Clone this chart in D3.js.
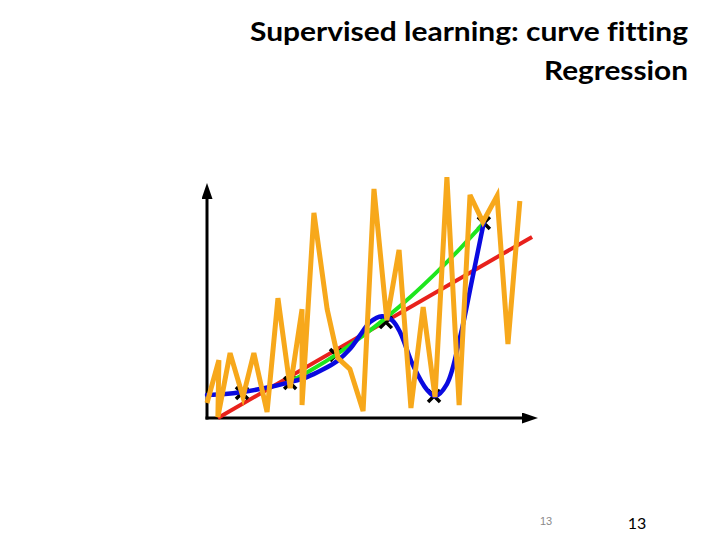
<!DOCTYPE html>
<html>
<head>
<meta charset="utf-8">
<script src="https://cdn.jsdelivr.net/npm/d3@7"></script>
<style>
  html, body { margin: 0; padding: 0; background: #fff; }
  svg { display: block; }
  text { font-variant-ligatures: none; font-feature-settings: "liga" 0; }
</style>
</head>
<body>
<svg id="chart" width="720" height="540"></svg>
<script>
// ---- Data (arbitrary units) ----
const titleLines = ["Supervised learning: curve fitting", "Regression"];
const pageLabels = ["13", "13"];

// training samples (black crosses)
const sampleX = [1.06, 2.52, 3.91, 5.42, 6.88, 8.39];
const sampleY = [0.75, 1.05, 1.89, 2.88, 0.66, 5.86];

// linear fit (red)
const linearX = [0.33, 9.85];
const linearY = [0.00, 5.44];

// quadratic fit (green)
const quadX = [2.45, 3.21, 3.94, 4.70, 5.45, 6.18, 6.91, 7.67, 8.39];
const quadY = [1.05, 1.47, 1.92, 2.45, 3.03, 3.65, 4.33, 5.09, 5.86];

// high-order polynomial fit (blue)
const polyX = [0, 0.55, 1.06, 1.76, 2.52, 3.03, 3.48, 3.94, 4.33, 4.64, 4.94, 5.30, 5.61, 5.85, 6.24, 6.67, 6.91, 7.27, 7.67, 8.03, 8.39];
const polyY = [0.69, 0.72, 0.78, 0.90, 1.08, 1.23, 1.44, 1.71, 2.07, 2.49, 2.88, 3.06, 2.94, 2.58, 1.59, 0.84, 0.66, 1.02, 2.43, 4.14, 5.89];

// over-fitted zig-zag (orange)
const overX = [0, 0.36, 0.33, 0.70, 1.09, 1.42, 1.82, 2.15, 2.52, 2.88, 2.88, 3.24, 3.64, 3.97, 4.33, 4.73, 5.06, 5.45, 5.82, 6.18, 6.55, 6.91, 7.27, 7.64, 7.97, 8.36, 8.79, 9.12, 9.48];
const overY = [0.45, 1.74, 0.03, 1.95, 0.63, 1.95, 0.18, 3.60, 0.90, 3.27, 0.39, 6.16, 3.27, 1.80, 1.47, 0.21, 6.88, 2.94, 5.05, 0.30, 3.33, 0.63, 7.24, 0.39, 6.70, 5.89, 6.67, 2.22, 6.52];

// ---- Drawing ----
const svg = d3.select("#chart");
const x = d3.scaleLinear().domain([0, 10]).range([207, 537]);
const y = d3.scaleLinear().domain([0, 7]).range([418, 185]);

// title
svg.append("text")
  .attr("x", 688).attr("y", 41)
  .attr("text-anchor", "end")
  .attr("font-family", "Lato, 'Open Sans', sans-serif")
  .attr("font-weight", "bold")
  .attr("font-size", 27)
  .attr("fill", "#000")
  .attr("textLength", 438)
  .attr("lengthAdjust", "spacingAndGlyphs")
  .text(titleLines[0]);
svg.append("text")
  .attr("x", 688).attr("y", 80)
  .attr("text-anchor", "end")
  .attr("font-family", "Lato, 'Open Sans', sans-serif")
  .attr("font-weight", "bold")
  .attr("font-size", 27)
  .attr("fill", "#000")
  .attr("textLength", 144)
  .attr("lengthAdjust", "spacingAndGlyphs")
  .text(titleLines[1]);

// arrow marker
const defs = svg.append("defs");
defs.append("marker")
  .attr("id", "arrow")
  .attr("viewBox", "0 0 10 10")
  .attr("refX", 0).attr("refY", 5)
  .attr("markerUnits", "userSpaceOnUse")
  .attr("markerWidth", 16).attr("markerHeight", 11)
  .attr("orient", "auto")
  .attr("preserveAspectRatio", "none")
  .append("path")
  .attr("d", "M0,0 L10,5 L0,10 Z")
  .attr("fill", "#000");

// axes (no ticks, just arrows)
const xAxis = svg.append("g")
  .attr("transform", `translate(0,${y(0)})`)
  .call(d3.axisBottom(x).tickValues([]).tickSizeOuter(0));
xAxis.select(".domain")
  .attr("d", `M${x(0) - 1.5},0H${x(10) - 15}`)
  .attr("stroke", "#000").attr("stroke-width", 3)
  .attr("marker-end", "url(#arrow)");

const yAxis = svg.append("g")
  .attr("transform", `translate(${x(0)},0)`)
  .call(d3.axisLeft(y).tickValues([]).tickSizeOuter(0));
yAxis.select(".domain")
  .attr("d", `M0,${y(0) + 1.5}V${y(7) + 14}`)
  .attr("stroke", "#000").attr("stroke-width", 3)
  .attr("marker-end", "url(#arrow)");

const line = d3.line().x(d => x(d[0])).y(d => y(d[1]));
const smooth = d3.line().x(d => x(d[0])).y(d => y(d[1])).curve(d3.curveCatmullRom.alpha(0.5));

// red linear fit
svg.append("path")
  .datum(d3.zip(linearX, linearY))
  .attr("d", line)
  .attr("fill", "none").attr("stroke", "#e8211c").attr("stroke-width", 4);

// sample crosses
const cs = 6;
svg.append("g").selectAll("path")
  .data(d3.zip(sampleX, sampleY))
  .join("path")
  .attr("d", d => {
    const cx = x(d[0]), cy = y(d[1]);
    return `M${cx - cs},${cy - cs}L${cx + cs},${cy + cs}M${cx - cs},${cy + cs}L${cx + cs},${cy - cs}`;
  })
  .attr("stroke", "#000").attr("stroke-width", 3.5).attr("fill", "none");

// green quadratic fit
svg.append("path")
  .datum(d3.zip(quadX, quadY))
  .attr("d", smooth)
  .attr("fill", "none").attr("stroke", "#1ee61e").attr("stroke-width", 4)
  .attr("stroke-linecap", "round");

// blue polynomial fit
svg.append("path")
  .datum(d3.zip(polyX, polyY))
  .attr("d", smooth)
  .attr("fill", "none").attr("stroke", "#0a0ae0").attr("stroke-width", 4.5)
  .attr("stroke-linecap", "round");

// orange over-fit
svg.append("path")
  .datum(d3.zip(overX, overY))
  .attr("d", line)
  .attr("fill", "none").attr("stroke", "#f7a81b").attr("stroke-width", 5)
  .attr("stroke-linejoin", "miter").attr("stroke-miterlimit", 4);

// page numbers
svg.append("text")
  .attr("x", 546).attr("y", 525)
  .attr("text-anchor", "middle")
  .attr("font-family", "'Liberation Sans', Arial, sans-serif")
  .attr("font-size", 11)
  .attr("fill", "#8a8a8a")
  .text(pageLabels[0]);
svg.append("text")
  .attr("x", 637).attr("y", 529)
  .attr("text-anchor", "middle")
  .attr("font-family", "Lato, 'Open Sans', sans-serif")
  .attr("font-size", 16)
  .attr("fill", "#000")
  .text(pageLabels[1]);
</script>
</body>
</html>
